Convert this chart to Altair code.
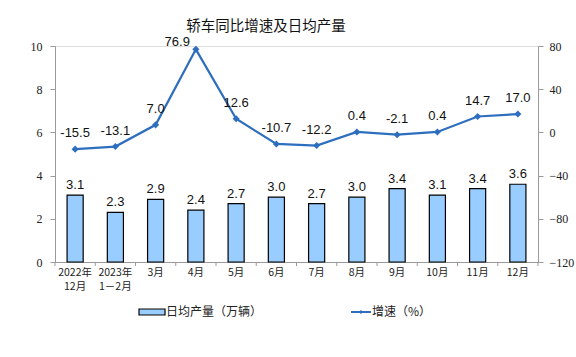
import altair as alt
import pandas as pd

categories = ["2022年|12月", "2023年|1－2月", "3月", "4月", "5月", "6月",
              "7月", "8月", "9月", "10月", "11月", "12月"]
daily_output = [3.1, 2.3, 2.9, 2.4, 2.7, 3.0, 2.7, 3.0, 3.4, 3.1, 3.4, 3.6]
growth = [-15.5, -13.1, 7.0, 76.9, 12.6, -10.7, -12.2, 0.4, -2.1, 0.4, 14.7, 17.0]

df = pd.DataFrame({
    "cat": categories,
    "bar": daily_output,
    "growth": growth,
    "bar_label": [f"{v:.1f}" for v in daily_output],
    "growth_label": [f"{v:.1f}" for v in growth],
})

W, H = 483, 216
STEP = W / 12
BAR_FILL = "#99CCFF"
LINE = "#2E6EBF"
AXIS_GRAY = "#9a9a9a"
CJK = "Noto Sans CJK SC"
PEAK = categories[int(pd.Series(growth).idxmax())]

xscale = alt.Scale(domain=categories, paddingInner=0.6, paddingOuter=0.3)
x_axis = alt.Axis(
    title=None, ticks=False, domainColor=AXIS_GRAY, labelAngle=0,
    labelExpr="split(datum.label, '|')", labelFont=CJK, labelFontSize=10.5,
    labelColor="#222", labelLineHeight=14, labelPadding=5,
)
x_enc = alt.X("cat:N", scale=xscale, axis=x_axis, sort=categories)
x_plain = alt.X("cat:N", scale=xscale, sort=categories)

yl_scale = alt.Scale(domain=[0, 10], nice=False, zero=False)
yr_scale = alt.Scale(domain=[-120, 80], nice=False, zero=False)

base = alt.Chart(df)

bars = base.mark_bar(fill=BAR_FILL, stroke="black", strokeWidth=1.2).encode(
    x=x_enc,
    y=alt.Y("bar:Q", scale=yl_scale, axis=alt.Axis(
        title=None, values=[0, 2, 4, 6, 8, 10], grid=False, domainColor=AXIS_GRAY,
        tickColor=AXIS_GRAY, tickSize=5, labelFont="Liberation Serif",
        labelFontSize=12, labelColor="#222", labelPadding=8)),
)
bar_text = base.mark_text(font="Liberation Sans", fontSize=13, color="#111",
                          baseline="bottom", dy=-3).encode(
    x=x_plain, y=alt.Y("bar:Q", scale=yl_scale), text="bar_label:N")

ticks = base.mark_rule(color=AXIS_GRAY, xOffset=-STEP / 2).encode(
    x=x_plain, y=alt.value(H), y2=alt.value(H + 4))
last_tick = base.transform_filter(alt.datum.cat == categories[-1]).mark_rule(
    color=AXIS_GRAY, xOffset=STEP / 2).encode(
    x=x_plain, y=alt.value(H), y2=alt.value(H + 4))

left = alt.layer(bars, bar_text, ticks, last_tick)

line = base.mark_line(color=LINE, strokeWidth=2.2).encode(
    x=x_plain,
    y=alt.Y("growth:Q", scale=yr_scale, axis=alt.Axis(
        title=None, orient="right", values=[-120, -80, -40, 0, 40, 80], grid=False,
        domainColor=AXIS_GRAY, tickColor=AXIS_GRAY, tickSize=5,
        labelFont="Liberation Serif", labelFontSize=12, labelColor="#222",
        labelPadding=6)),
)
pts = base.mark_point(shape="diamond", filled=True, color=LINE, size=50, opacity=1).encode(
    x=x_plain, y=alt.Y("growth:Q", scale=yr_scale))
line_text = base.transform_filter(alt.datum.cat != PEAK).mark_text(
    font="Liberation Sans", fontSize=13, color="#111",
    baseline="bottom", dy=-9).encode(
    x=x_plain, y=alt.Y("growth:Q", scale=yr_scale), text="growth_label:N")
peak_text = base.transform_filter(alt.datum.cat == PEAK).mark_text(
    font="Liberation Sans", fontSize=13, color="#111",
    align="right", baseline="middle", dx=-6, dy=-7).encode(
    x=x_plain, y=alt.Y("growth:Q", scale=yr_scale), text="growth_label:N")

right = alt.layer(line, pts, line_text, peak_text)

# legend and title (manual)
one = base.transform_filter(alt.datum.cat == categories[0])
leg_bar = one.mark_rect(fill=BAR_FILL, stroke="black", strokeWidth=1.2).encode(
    x=alt.value(84), x2=alt.value(110), y=alt.value(263), y2=alt.value(269))
leg_bar_t = one.mark_text(
    font=CJK, fontSize=12, align="left", baseline="middle", color="#222").encode(
    x=alt.value(111), y=alt.value(266), text=alt.value("日均产量（万辆）"))
leg_line = one.mark_rule(color=LINE, strokeWidth=2).encode(
    x=alt.value(296), x2=alt.value(316), y=alt.value(266))
leg_pt = one.mark_point(
    shape="diamond", filled=True, color=LINE, size=18, opacity=1).encode(
    x=alt.value(306), y=alt.value(266))
leg_line_t = one.mark_text(
    font=CJK, fontSize=12, align="left", baseline="middle", color="#222").encode(
    x=alt.value(317), y=alt.value(266), text=alt.value("增速（%）"))
title_t = one.mark_text(
    font=CJK, fontSize=14.5, align="center", baseline="middle", color="#111").encode(
    x=alt.value(211), y=alt.value(-19), text=alt.value("轿车同比增速及日均产量"))

legend = alt.layer(leg_bar, leg_bar_t, leg_line, leg_pt, leg_line_t, title_t)

chart = alt.layer(left, right, legend).resolve_scale(y="independent").properties(
    width=W, height=H,
    padding={"left": 55, "top": 46, "right": 38, "bottom": 95},
    autosize=alt.AutoSizeParams(type="none"),
).configure_view(stroke=None).configure(background="white")

chart.save("out.html", embed_options={"renderer": "svg", "actions": False})
